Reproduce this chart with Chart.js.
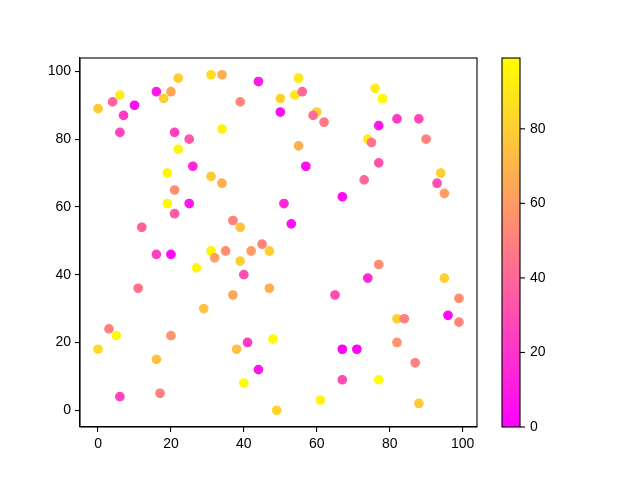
<!DOCTYPE html>
<html><head><meta charset="utf-8">
<script src="https://cdn.jsdelivr.net/npm/chart.js@4"></script>
<style>html,body{margin:0;padding:0;background:#fff;}canvas{display:block;}</style>
</head><body>
<canvas id="c" width="640" height="480"></canvas>
<script>
const xs=[0,4,6,7,6,10,16,18,20,22,21,25,22,31,34,44,39,34,26,19,31,34,21,19,25,21,12,16,20,27,31,32,35,37,39,42,45,47,40,37,47,11,3,5,0,20,16,6,17,29,38,41,44,40,48,49,39,
55,54,56,50,50,60,59,62,55,57,51,53,76,78,77,82,88,90,74,75,77,73,94,93,95,67,
77,74,95,65,99,82,84,96,99,82,67,71,87,67,77,61,88];
const ys=[89,91,93,87,82,90,94,92,94,98,82,80,77,99,99,97,91,83,72,70,69,67,65,61,61,58,54,46,46,42,47,45,47,56,54,47,49,47,40,34,36,36,24,22,18,22,15,4,5,30,18,20,12,8,21,0,44,
98,93,94,92,88,88,87,85,78,72,61,55,95,92,84,86,86,80,80,79,73,68,70,67,64,63,
43,39,39,34,33,27,27,28,26,20,18,18,14,9,9,3,2];
const cs=[78,38,92,22,25,5,10,80,65,80,25,33,95,85,68,10,52,95,15,95,78,68,55,96,8,35,38,25,3,95,95,62,55,50,75,60,50,80,30,65,68,45,50,97,85,58,75,25,50,75,75,22,8,97,97,82,80,
90,90,40,82,5,82,42,47,68,5,15,5,92,97,8,22,28,50,92,45,32,40,80,30,60,5,
55,15,80,30,55,80,50,3,52,58,0,2,50,30,99,95,78];
const xTicks=[0,20,40,60,80,100];
const yTicks=[0,20,40,60,80,100];
const cbTicks=[0,20,40,60,80];
const cMin=0,cMax=99;
const FONT='"Liberation Sans", Arial, sans-serif';
function spring(v){const t=Math.max(0,Math.min(1,(v-cMin)/(cMax-cMin)));return 'rgb(255,'+Math.round(255*t)+','+Math.round(255*(1-t))+')';}
const colors=cs.map(spring);
const axisCommon={
  type:'linear',min:-4.95,max:103.95,
  ticks:{color:'#000',font:{family:FONT,size:14},padding:4,autoSkip:false,maxRotation:0},
  grid:{drawOnChartArea:false,drawTicks:true,tickLength:5,color:'#000',lineWidth:1.1},
  border:{display:true,color:'#000',width:1.1}
};
const framePlugin={id:'frame',afterDraw(chart){
  const ctx=chart.ctx,a=chart.chartArea;
  ctx.save();ctx.strokeStyle='#000';ctx.lineWidth=1.1;
  ctx.strokeRect(a.left,a.top,a.right-a.left,a.bottom-a.top);
  // colorbar
  const x0=502,x1=520,top=a.top,bot=a.bottom;
  const g=ctx.createLinearGradient(0,bot,0,top);
  g.addColorStop(0,spring(cMin));g.addColorStop(1,spring(cMax));
  ctx.fillStyle=g;ctx.fillRect(x0,top,x1-x0,bot-top);
  ctx.strokeRect(x0,top,x1-x0,bot-top);
  ctx.fillStyle='#000';ctx.font='14px '+FONT;ctx.textAlign='left';ctx.textBaseline='middle';
  cbTicks.forEach(v=>{
    const y=bot-(v-cMin)/(cMax-cMin)*(bot-top);
    ctx.beginPath();ctx.moveTo(x1,y);ctx.lineTo(x1+5,y);ctx.stroke();
    ctx.fillText(String(v),x1+10,y);
  });
  ctx.restore();
}};
new Chart(document.getElementById('c'),{
  type:'scatter',
  data:{datasets:[{
    data:xs.map((x,i)=>({x:x,y:ys[i]})),
    pointBackgroundColor:colors,pointBorderColor:colors,
    pointRadius:4.2,pointBorderWidth:1.3,pointHoverRadius:4.2
  }]},
  options:{
    responsive:false,devicePixelRatio:1,animation:false,
    layout:{padding:{top:58,right:163,left:0,bottom:0}},
    plugins:{legend:{display:false},tooltip:{enabled:false}},
    scales:{
      x:Object.assign({},axisCommon,{position:'bottom',
        afterBuildTicks:s=>{s.ticks=xTicks.map(v=>({value:v}));},
        afterFit:s=>{s.height=53;}}),
      y:Object.assign({},axisCommon,{position:'left',
        afterBuildTicks:s=>{s.ticks=yTicks.map(v=>({value:v}));},
        afterFit:s=>{s.width=80;}})
    }
  },
  plugins:[framePlugin]
});
</script>
</body></html>
